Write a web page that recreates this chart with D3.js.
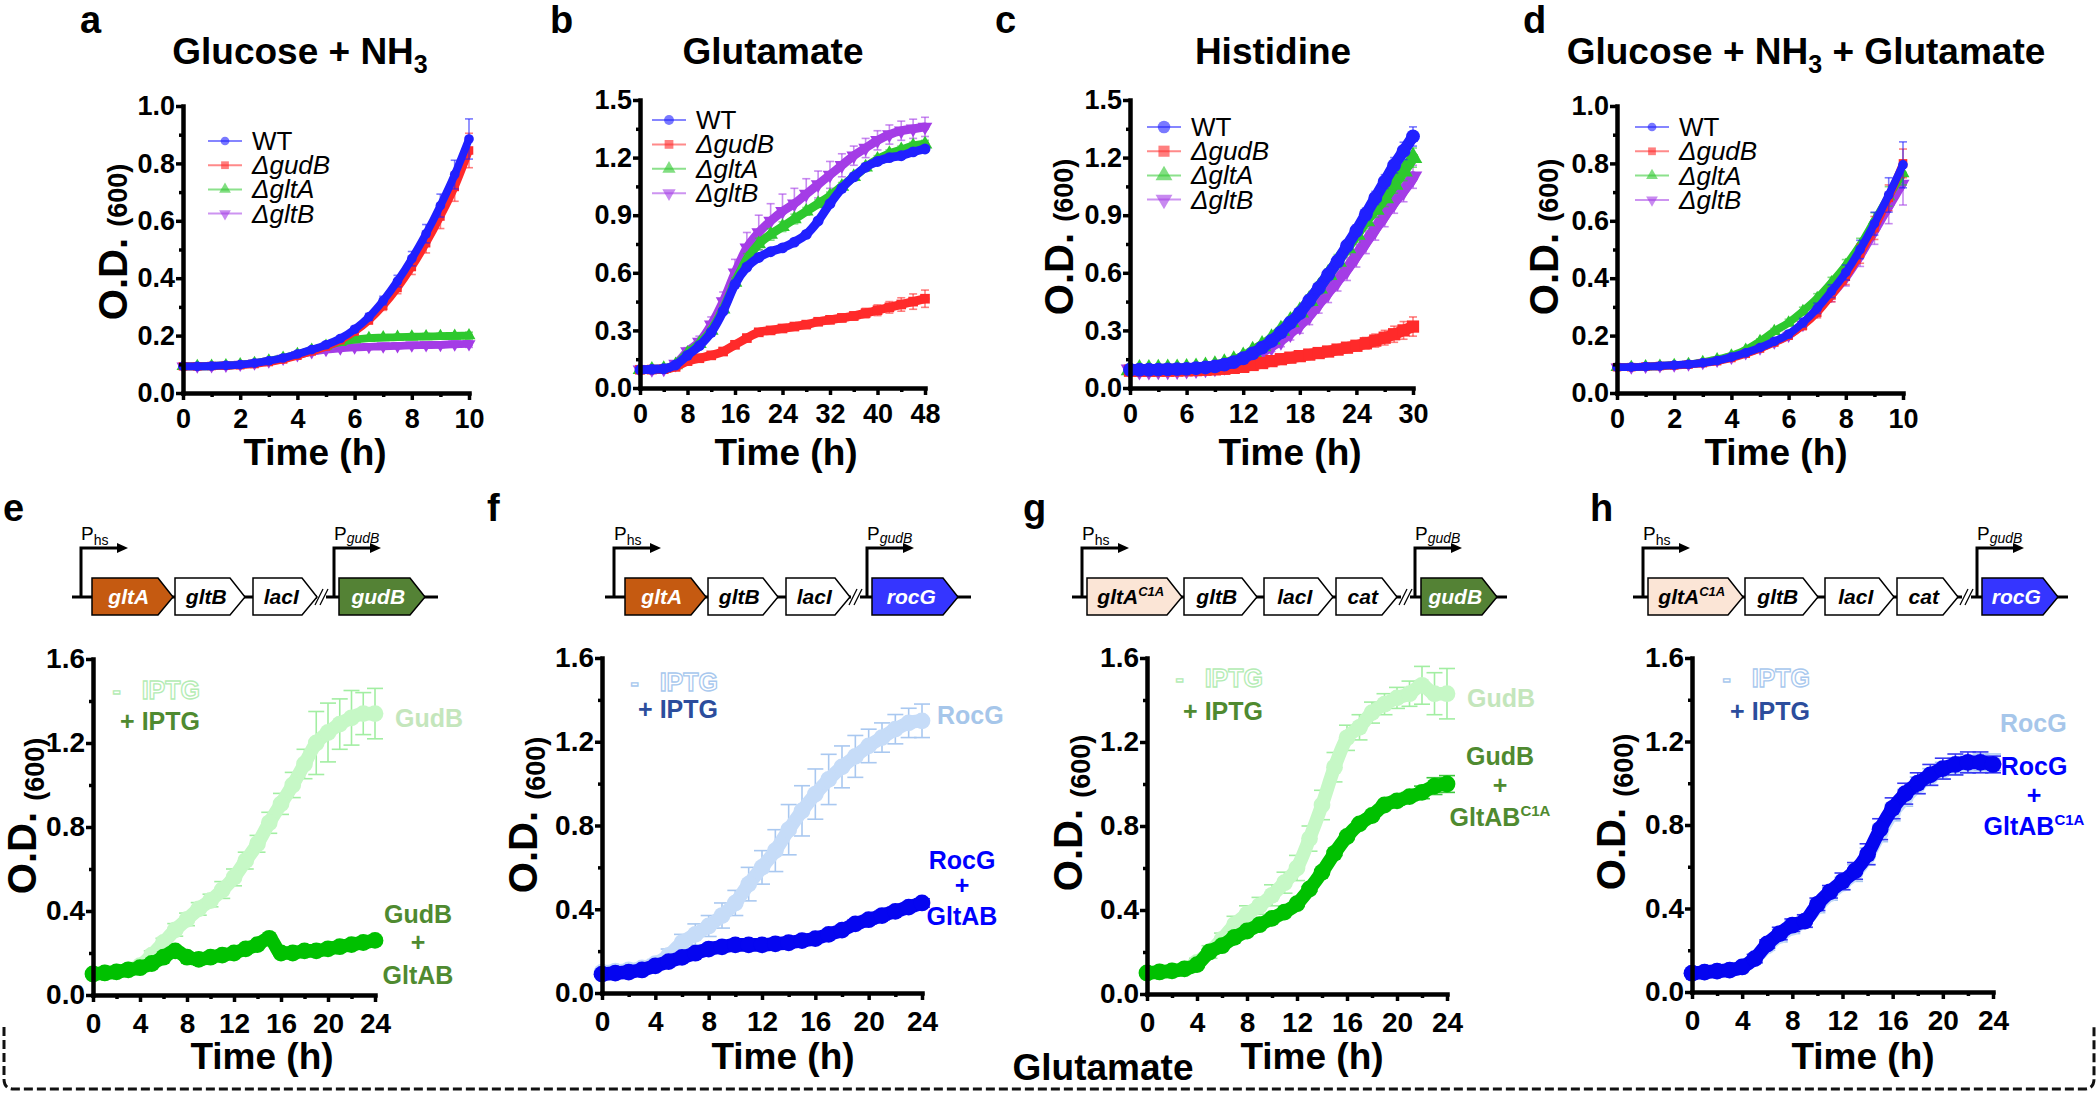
<!DOCTYPE html>
<html><head><meta charset="utf-8">
<script src="https://cdn.jsdelivr.net/npm/d3@7"></script>
<style>
html,body{margin:0;padding:0;background:#fff;overflow:hidden}
text{font-family:"Liberation Sans",Arial,Helvetica,sans-serif}
</style>
</head><body>
<script>
// ---------------- DATA ----------------
const seriesNames = ["WT", "ΔgudB", "ΔgltA", "ΔgltB"];
const panelTitles = [
  [["Glucose + NH",0],["3",1]],
  [["Glutamate",0]],
  [["Histidine",0]],
  [["Glucose + NH",0],["3",1],[" + Glutamate",0]]
];
const panelLetters = ["a","b","c","d","e","f","g","h"];

const tA = [0,0.5,1,1.5,2,2.5,3,3.5,4,4.5,5,5.5,6,6.5,7,7.5,8,8.5,9,9.5,10];
const a_WT   = [0.093,0.093,0.094,0.096,0.099,0.104,0.112,0.122,0.136,0.151,0.168,0.19,0.222,0.265,0.322,0.39,0.468,0.555,0.653,0.761,0.885];
const a_WT_sd= [0.005,0.005,0.005,0.005,0.005,0.005,0.005,0.005,0.006,0.006,0.007,0.008,0.01,0.012,0.015,0.02,0.025,0.032,0.04,0.05,0.07];
const a_gudB = [0.093,0.093,0.094,0.095,0.097,0.101,0.108,0.117,0.13,0.145,0.162,0.184,0.214,0.253,0.304,0.366,0.439,0.522,0.615,0.718,0.845];
const a_gudB_sd=[0.005,0.005,0.005,0.005,0.005,0.005,0.005,0.005,0.006,0.006,0.007,0.008,0.01,0.012,0.016,0.02,0.026,0.034,0.042,0.05,0.06];
const a_gltA = [0.093,0.093,0.094,0.096,0.099,0.104,0.112,0.122,0.135,0.15,0.164,0.177,0.186,0.191,0.193,0.195,0.196,0.197,0.198,0.199,0.2];
const a_gltA_sd=[0.005,0.005,0.005,0.005,0.005,0.005,0.005,0.005,0.005,0.006,0.006,0.007,0.007,0.008,0.008,0.009,0.009,0.01,0.01,0.011,0.012];
const a_gltB = [0.093,0.093,0.094,0.096,0.099,0.104,0.111,0.12,0.132,0.143,0.151,0.156,0.159,0.161,0.163,0.164,0.166,0.167,0.168,0.17,0.171];
const a_gltB_sd=[0.005,0.005,0.005,0.005,0.005,0.005,0.005,0.005,0.005,0.006,0.006,0.007,0.007,0.008,0.008,0.009,0.009,0.01,0.01,0.011,0.012];

const tB = [0,2,4,6,8,10,12,14,16,18,20,22,24,26,28,30,32,34,36,38,40,42,44,46,48];
const b_WT   = [0.095,0.097,0.1,0.12,0.17,0.22,0.29,0.4,0.54,0.63,0.68,0.71,0.73,0.76,0.8,0.87,0.96,1.04,1.1,1.15,1.18,1.2,1.21,1.23,1.245];
const b_WT_sd= [0.005,0.005,0.005,0.008,0.01,0.01,0.012,0.015,0.015,0.015,0.015,0.015,0.015,0.015,0.015,0.015,0.015,0.015,0.015,0.015,0.015,0.015,0.015,0.015,0.015];
const b_gudB = [0.095,0.096,0.098,0.11,0.14,0.155,0.17,0.19,0.225,0.26,0.29,0.3,0.31,0.32,0.33,0.345,0.355,0.365,0.375,0.39,0.405,0.42,0.435,0.45,0.465];
const b_gudB_sd=[0.005,0.005,0.005,0.005,0.008,0.008,0.01,0.01,0.012,0.012,0.015,0.015,0.015,0.015,0.015,0.018,0.018,0.02,0.022,0.025,0.028,0.03,0.035,0.04,0.045];
const b_gltA = [0.095,0.097,0.1,0.12,0.18,0.23,0.3,0.41,0.55,0.67,0.75,0.8,0.84,0.88,0.92,0.96,1.0,1.05,1.1,1.15,1.19,1.22,1.24,1.26,1.27];
const b_gltA_sd=[0.005,0.005,0.006,0.008,0.01,0.012,0.015,0.02,0.025,0.03,0.03,0.03,0.025,0.025,0.02,0.02,0.02,0.02,0.02,0.02,0.02,0.02,0.02,0.02,0.02];
const b_gltB = [0.095,0.097,0.1,0.125,0.19,0.24,0.33,0.45,0.6,0.73,0.81,0.87,0.92,0.96,1.01,1.06,1.11,1.16,1.21,1.25,1.29,1.32,1.34,1.35,1.36];
const b_gltB_sd=[0.005,0.006,0.008,0.01,0.02,0.03,0.04,0.05,0.07,0.08,0.09,0.09,0.09,0.08,0.08,0.07,0.07,0.06,0.05,0.05,0.05,0.05,0.05,0.05,0.05];

const tC = [0,1,2,3,4,5,6,7,8,9,10,11,12,13,14,15,16,17,18,19,20,21,22,23,24,25,26,27,28,29,30];
const c_WT   = [0.095,0.095,0.095,0.096,0.097,0.098,0.1,0.103,0.107,0.113,0.122,0.135,0.155,0.18,0.21,0.245,0.29,0.34,0.39,0.455,0.52,0.59,0.66,0.74,0.82,0.905,0.99,1.075,1.16,1.235,1.31];
const c_WT_sd= [0.012,0.012,0.012,0.012,0.012,0.012,0.012,0.012,0.012,0.012,0.012,0.012,0.012,0.012,0.013,0.014,0.015,0.016,0.018,0.02,0.022,0.024,0.026,0.028,0.03,0.032,0.034,0.036,0.04,0.045,0.05];
const c_gudB = [0.09,0.09,0.09,0.09,0.09,0.091,0.092,0.093,0.095,0.097,0.1,0.105,0.11,0.12,0.13,0.14,0.15,0.158,0.166,0.174,0.182,0.19,0.2,0.21,0.22,0.233,0.247,0.262,0.28,0.3,0.32];
const c_gudB_sd=[0.015,0.015,0.015,0.015,0.015,0.015,0.015,0.015,0.015,0.015,0.015,0.015,0.015,0.015,0.015,0.015,0.015,0.015,0.015,0.016,0.018,0.02,0.022,0.024,0.026,0.03,0.034,0.038,0.042,0.046,0.05];
const c_gltA = [0.095,0.095,0.095,0.096,0.097,0.098,0.1,0.103,0.108,0.115,0.125,0.14,0.16,0.19,0.22,0.255,0.3,0.345,0.395,0.455,0.52,0.59,0.66,0.73,0.8,0.87,0.93,0.99,1.06,1.13,1.2];
const c_gltA_sd=[0.012,0.012,0.012,0.012,0.012,0.012,0.012,0.012,0.012,0.012,0.012,0.012,0.012,0.012,0.015,0.02,0.02,0.025,0.025,0.03,0.03,0.03,0.035,0.035,0.04,0.04,0.04,0.045,0.045,0.05,0.05];
const c_gltB = [0.095,0.095,0.095,0.096,0.097,0.098,0.1,0.103,0.107,0.112,0.12,0.13,0.145,0.165,0.19,0.22,0.25,0.29,0.33,0.38,0.44,0.5,0.56,0.62,0.69,0.76,0.83,0.9,0.97,1.03,1.1];
const c_gltB_sd=[0.012,0.012,0.012,0.012,0.012,0.012,0.012,0.012,0.012,0.012,0.012,0.012,0.015,0.02,0.025,0.03,0.035,0.04,0.045,0.05,0.05,0.055,0.055,0.06,0.06,0.06,0.06,0.06,0.06,0.06,0.06];

const tD = [0,0.5,1,1.5,2,2.5,3,3.5,4,4.5,5,5.5,6,6.5,7,7.5,8,8.5,9,9.5,10];
const d_WT   = [0.09,0.09,0.092,0.094,0.097,0.1,0.105,0.113,0.125,0.14,0.158,0.18,0.205,0.245,0.295,0.355,0.42,0.5,0.59,0.69,0.795];
const d_WT_sd= [0.006,0.006,0.006,0.006,0.006,0.006,0.006,0.007,0.007,0.008,0.009,0.01,0.012,0.015,0.018,0.022,0.026,0.032,0.04,0.06,0.08];
const d_gudB = [0.09,0.09,0.092,0.094,0.096,0.099,0.104,0.111,0.122,0.137,0.155,0.176,0.2,0.235,0.28,0.34,0.405,0.485,0.575,0.68,0.8];
const d_gudB_sd=[0.006,0.006,0.006,0.006,0.006,0.006,0.006,0.007,0.007,0.008,0.009,0.01,0.012,0.015,0.018,0.022,0.027,0.033,0.04,0.045,0.05];
const d_gltA = [0.09,0.09,0.092,0.094,0.097,0.1,0.107,0.117,0.13,0.15,0.18,0.215,0.245,0.285,0.33,0.385,0.445,0.515,0.6,0.685,0.765];
const d_gltA_sd=[0.006,0.006,0.006,0.006,0.006,0.006,0.006,0.007,0.007,0.008,0.009,0.01,0.012,0.014,0.016,0.018,0.02,0.024,0.028,0.034,0.04];
const d_gltB = [0.09,0.09,0.092,0.094,0.097,0.1,0.105,0.113,0.124,0.139,0.156,0.177,0.2,0.238,0.285,0.34,0.4,0.475,0.56,0.645,0.73];
const d_gltB_sd=[0.006,0.006,0.006,0.006,0.006,0.006,0.006,0.007,0.007,0.008,0.009,0.01,0.012,0.015,0.018,0.022,0.027,0.034,0.042,0.055,0.075];

const tE = [0,1,2,3,4,5,6,7,8,9,10,11,12,13,14,15,16,17,18,19,20,21,22,23,24];
const e_minus   = [0.1,0.105,0.11,0.12,0.14,0.19,0.25,0.31,0.36,0.41,0.45,0.5,0.56,0.64,0.72,0.82,0.91,1.0,1.1,1.2,1.25,1.29,1.32,1.34,1.34];
const e_minus_sd= [0.01,0.01,0.01,0.01,0.01,0.02,0.02,0.03,0.03,0.03,0.03,0.04,0.04,0.04,0.04,0.05,0.05,0.06,0.07,0.15,0.14,0.12,0.13,0.1,0.12];
const e_plus    = [0.1,0.105,0.11,0.12,0.13,0.15,0.18,0.21,0.18,0.17,0.18,0.19,0.2,0.22,0.24,0.27,0.2,0.2,0.21,0.21,0.22,0.23,0.24,0.25,0.26];
const e_plus_sd = [0.01,0.01,0.01,0.01,0.01,0.01,0.01,0.01,0.01,0.01,0.01,0.01,0.01,0.01,0.01,0.01,0.01,0.01,0.01,0.01,0.01,0.01,0.01,0.01,0.01];
const f_minus   = [0.1,0.105,0.11,0.12,0.14,0.18,0.24,0.28,0.32,0.37,0.43,0.52,0.6,0.68,0.78,0.87,0.95,1.02,1.08,1.13,1.18,1.22,1.26,1.29,1.3];
const f_minus_sd= [0.01,0.01,0.01,0.01,0.02,0.03,0.04,0.05,0.05,0.06,0.06,0.08,0.08,0.1,0.12,0.12,0.12,0.12,0.1,0.1,0.08,0.07,0.07,0.07,0.08];
const f_plus    = [0.09,0.095,0.1,0.11,0.13,0.15,0.17,0.19,0.21,0.22,0.23,0.23,0.23,0.235,0.24,0.25,0.26,0.28,0.3,0.33,0.35,0.37,0.39,0.41,0.43];
const f_plus_sd = [0.01,0.01,0.01,0.01,0.01,0.01,0.01,0.01,0.01,0.01,0.01,0.01,0.01,0.01,0.01,0.01,0.01,0.01,0.01,0.02,0.02,0.02,0.02,0.02,0.02];
const g_minus   = [0.1,0.105,0.11,0.12,0.15,0.2,0.26,0.33,0.38,0.42,0.47,0.53,0.6,0.74,0.9,1.08,1.22,1.27,1.34,1.38,1.41,1.43,1.47,1.43,1.43];
const g_minus_sd= [0.01,0.01,0.01,0.01,0.02,0.03,0.03,0.04,0.04,0.04,0.05,0.05,0.06,0.06,0.07,0.07,0.06,0.06,0.05,0.05,0.05,0.06,0.09,0.1,0.12];
const g_plus    = [0.1,0.105,0.11,0.12,0.14,0.2,0.23,0.27,0.3,0.33,0.36,0.39,0.43,0.5,0.58,0.67,0.75,0.81,0.85,0.9,0.92,0.94,0.96,0.99,1.0];
const g_plus_sd = [0.01,0.01,0.01,0.01,0.01,0.01,0.01,0.01,0.01,0.01,0.01,0.01,0.01,0.01,0.01,0.01,0.01,0.01,0.01,0.01,0.02,0.02,0.03,0.04,0.04];
const h_minus   = [0.09,0.095,0.1,0.105,0.12,0.16,0.22,0.27,0.31,0.34,0.41,0.47,0.52,0.57,0.65,0.76,0.86,0.93,0.99,1.03,1.06,1.08,1.09,1.1,1.1];
const h_minus_sd= [0.01,0.01,0.01,0.01,0.01,0.02,0.02,0.03,0.03,0.03,0.03,0.03,0.03,0.04,0.04,0.04,0.04,0.04,0.04,0.04,0.04,0.04,0.04,0.04,0.04];
const h_plus    = [0.09,0.095,0.1,0.105,0.12,0.16,0.23,0.28,0.32,0.34,0.42,0.48,0.53,0.58,0.66,0.78,0.88,0.95,1.0,1.04,1.07,1.09,1.1,1.1,1.09];
const h_plus_sd = [0.01,0.01,0.01,0.01,0.01,0.02,0.02,0.03,0.03,0.03,0.03,0.03,0.04,0.04,0.05,0.05,0.05,0.05,0.05,0.05,0.05,0.05,0.05,0.05,0.04];

// tick labels
const xTicksA = [0,2,4,6,8,10], xTicksB = [0,8,16,24,32,40,48], xTicksC = [0,6,12,18,24,30], xTicksE = [0,4,8,12,16,20,24];
const yTicksA = [0,0.2,0.4,0.6,0.8,1.0], yTicksB = [0,0.3,0.6,0.9,1.2,1.5], yTicksE = [0,0.4,0.8,1.2,1.6];

// ---------------- DRAW ----------------
const W = 2100, H = 1093;
const FONT = '"Liberation Sans",Arial,Helvetica,sans-serif';
const svg = d3.select('body').append('svg').attr('width', W).attr('height', H);

const topColors = ['#2020ff', '#ff2a2a', '#2ec82e', '#a43ce6'];
const topSyms = [d3.symbolCircle, d3.symbolSquare, d3.symbolTriangle, d3.symbolTriangle];
const topRot = [false, false, false, true];

function minorOf(major){
  const out = [];
  for (let i = 0; i < major.length - 1; i++) out.push((major[i] + major[i+1]) / 2);
  return out;
}

function axes(g, x, y, xt, yt, o){
  const yA = g.append('g').attr('transform', `translate(${o.x0},0)`)
    .call(d3.axisLeft(y).tickValues(yt).tickSize(7).tickSizeOuter(0).tickPadding(o.yPad).tickFormat(d3.format('.1f')));
  const yM = g.append('g').attr('transform', `translate(${o.x0},0)`)
    .call(d3.axisLeft(y).tickValues(minorOf(yt)).tickSize(4).tickSizeOuter(0).tickFormat(''));
  const xA = g.append('g').attr('transform', `translate(0,${o.y1})`)
    .call(d3.axisBottom(x).tickValues(xt).tickSize(7).tickSizeOuter(0).tickPadding(o.xPad).tickFormat(d3.format('d')));
  const xM = g.append('g').attr('transform', `translate(0,${o.y1})`)
    .call(d3.axisBottom(x).tickValues(minorOf(xt)).tickSize(4).tickSizeOuter(0).tickFormat(''));
  [yM, xM].forEach(a => a.select('.domain').remove());
  [yA, xA, yM, xM].forEach(a => {
    a.attr('font-family', FONT).attr('font-size', o.tickFont).attr('font-weight', 'bold');
    a.selectAll('.tick line').attr('stroke', '#000').attr('stroke-width', 3.5);
    a.select('.domain').attr('stroke', '#000').attr('stroke-width', 4.5).attr('stroke-linecap', 'square');
    a.selectAll('text').attr('fill', '#000');
  });
}

function seriesDraw(g, x, y, s){
  const pts = s.t.map((t, i) => ({t, v: s.v[i], e: s.sd[i]}));
  const eg = g.append('g').attr('stroke', s.err).attr('stroke-width', 1.6).attr('stroke-opacity', s.errOp || 1);
  pts.forEach(p => {
    const xx = x(p.t), yt = y(p.v + p.e), yb = y(p.v - p.e);
    eg.append('line').attr('x1', xx).attr('x2', xx).attr('y1', yt).attr('y2', yb);
    eg.append('line').attr('x1', xx - s.cap).attr('x2', xx + s.cap).attr('y1', yt).attr('y2', yt);
    eg.append('line').attr('x1', xx - s.cap).attr('x2', xx + s.cap).attr('y1', yb).attr('y2', yb);
  });
  g.append('path').datum(pts)
    .attr('d', d3.line().x(p => x(p.t)).y(p => y(p.v)).curve(d3.curveMonotoneX))
    .attr('fill', 'none').attr('stroke', s.fill).attr('stroke-width', s.r * 1.7)
    .attr('stroke-linejoin', 'round').attr('stroke-linecap', 'round');
  g.selectAll(null).data(pts).enter().append('path')
    .attr('transform', p => `translate(${x(p.t)},${y(p.v)})${s.rot ? ' rotate(180)' : ''}`)
    .attr('d', d3.symbol().type(s.sym).size(Math.PI * s.r * s.r * 1.1))
    .attr('fill', s.fill);
}

function yLabel(x, yc, dy2){
  const t = svg.append('text').attr('transform', `translate(${x},${yc}) rotate(-90)`)
    .attr('text-anchor', 'middle').attr('font-weight', 'bold').attr('font-family', FONT);
  t.append('tspan').attr('font-size', 40).text('O.D. ');
  t.append('tspan').attr('font-size', 27).attr('dy', dy2).text('(600)');
}

function letter(lbl, x, y){
  svg.append('text').attr('x', x).attr('y', y).attr('font-size', 38).attr('font-weight', 'bold')
    .attr('font-family', FONT).text(lbl);
}

// ---------- top row ----------
const topPanels = [
  {t: tA, vals: [a_WT, a_gudB, a_gltA, a_gltB], sds: [a_WT_sd, a_gudB_sd, a_gltA_sd, a_gltB_sd], xmax: 10, ymax: 1.0, xt: xTicksA, yt: yTicksA,
   x0: 183, x1: 469, y0: 106, y1: 393, r: 4.6, title: panelTitles[0], titleX: 300, lx: 80, ylab: [127, 242], xlabX: 315, leg: [208, 141, 24.2]},
  {t: tB, vals: [b_WT, b_gudB, b_gltA, b_gltB], sds: [b_WT_sd, b_gudB_sd, b_gltA_sd, b_gltB_sd], xmax: 48, ymax: 1.5, xt: xTicksB, yt: yTicksB,
   x0: 640, x1: 925, y0: 100, y1: 388, r: 5.2, title: panelTitles[1], titleX: 773, lx: 550, ylab: null, xlabX: 786, leg: [652, 120, 24.4]},
  {t: tC, vals: [c_WT, c_gudB, c_gltA, c_gltB], sds: [c_WT_sd, c_gudB_sd, c_gltA_sd, c_gltB_sd], xmax: 30, ymax: 1.5, xt: xTicksC, yt: yTicksB,
   x0: 1130, x1: 1413, y0: 100, y1: 388, r: 6.6, title: panelTitles[2], titleX: 1273, lx: 995, ylab: [1073, 237], xlabX: 1290, leg: [1147, 127, 24.2]},
  {t: tD, vals: [d_WT, d_gudB, d_gltA, d_gltB], sds: [d_WT_sd, d_gudB_sd, d_gltA_sd, d_gltB_sd], xmax: 10, ymax: 1.0, xt: xTicksA, yt: yTicksA,
   x0: 1617, x1: 1903, y0: 106, y1: 393, r: 4.6, title: panelTitles[3], titleX: 1806, lx: 1523, ylab: [1558, 237], xlabX: 1776, leg: [1635, 127, 24.3]}
];

topPanels.forEach((p, pi) => {
  const g = svg.append('g');
  const x = d3.scaleLinear().domain([0, p.xmax]).range([p.x0, p.x1]);
  const y = d3.scaleLinear().domain([0, p.ymax]).range([p.y1, p.y0]);
  [3, 2, 1, 0].forEach(k => {
    seriesDraw(g, x, y, {t: p.t, v: p.vals[k], sd: p.sds[k], fill: topColors[k], err: topColors[k], errOp: 0.6,
      sym: topSyms[k], rot: topRot[k], r: p.r, cap: 4});
  });
  axes(g, x, y, p.xt, p.yt, {x0: p.x0, y1: p.y1, yPad: 1, xPad: 9, tickFont: 27});
  const [lx, ly, ldy] = p.leg;
  seriesNames.forEach((nm, k) => {
    const yy = ly + k * ldy;
    g.append('line').attr('x1', lx).attr('x2', lx + 34).attr('y1', yy).attr('y2', yy)
      .attr('stroke', topColors[k]).attr('stroke-opacity', 0.55).attr('stroke-width', 2);
    g.append('path').attr('transform', `translate(${lx + 17},${yy})${topRot[k] ? ' rotate(180)' : ''}`)
      .attr('d', d3.symbol().type(topSyms[k]).size(Math.PI * Math.pow(p.r * 0.95, 2)))
      .attr('fill', topColors[k]).attr('fill-opacity', 0.6);
    g.append('text').attr('x', lx + 44).attr('y', yy + 9).attr('font-size', 26).attr('font-family', FONT)
      .attr('font-style', k === 0 ? 'normal' : 'italic').text(nm);
  });
  const tt = svg.append('text').attr('x', p.titleX).attr('y', 64).attr('text-anchor', 'middle')
    .attr('font-size', 37).attr('font-weight', 'bold').attr('font-family', FONT);
  let shifted = false;
  p.title.forEach(([s, sub]) => {
    const ts = tt.append('tspan').text(s);
    if (sub) { ts.attr('font-size', 25).attr('dy', 9); shifted = true; }
    else if (shifted) { ts.attr('dy', -9); shifted = false; }
  });
  letter(panelLetters[pi], p.lx, 33);
  if (p.ylab) yLabel(p.ylab[0], p.ylab[1], 0);
  svg.append('text').attr('x', p.xlabX).attr('y', 465).attr('text-anchor', 'middle').attr('font-size', 37)
    .attr('font-weight', 'bold').attr('font-family', FONT).text('Time (h)');
});

// ---------- bottom row ----------
const greenSet = {minusFill: '#c6f8c6', minusErr: '#a2eea2', plusFill: '#00c000', plusErr: '#3cc83c',
  outline: '#b4ecb4', plusLbl: '#4f8a30', lightLbl: '#c4e6bc', darkLbl: '#4f8a30'};
const blueSet = {minusFill: '#c6dcf8', minusErr: '#a9c8f0', plusFill: '#0505f0', plusErr: '#3838f2',
  outline: '#a8c8ee', plusLbl: '#2c4d9c', lightLbl: '#a6c6ea', darkLbl: '#0000ff'};

const bottomPanels = [
  {minus: [e_minus, e_minus_sd], plus: [e_plus, e_plus_sd], set: greenSet, x0: 93, x1: 375, y0: 659, y1: 995, lx: 3, ylab: [36, 816], xlabX: 262,
   ipX: 200, ipY: [699, 730], light: ['GudB', 395, 727], dark: [['GudB', '+', 'GltAB'], 418, [923, 951, 984]], sup: false},
  {minus: [f_minus, f_minus_sd], plus: [f_plus, f_plus_sd], set: blueSet, x0: 602, x1: 922, y0: 658, y1: 993, lx: 487, ylab: [537, 815], xlabX: 783,
   ipX: 718, ipY: [691, 718], light: ['RocG', 937, 724], dark: [['RocG', '+', 'GltAB'], 962, [869, 894, 925]], sup: false},
  {minus: [g_minus, g_minus_sd], plus: [g_plus, g_plus_sd], set: greenSet, x0: 1147, x1: 1447, y0: 658, y1: 994, lx: 1023, ylab: [1082, 813], xlabX: 1312,
   ipX: 1263, ipY: [687, 720], light: ['GudB', 1467, 707], dark: [['GudB', '+', 'GltAB'], 1500, [765, 794, 826]], sup: true},
  {minus: [h_minus, h_minus_sd], plus: [h_plus, h_plus_sd], set: blueSet, x0: 1692, x1: 1993, y0: 658, y1: 992, lx: 1590, ylab: [1625, 812], xlabX: 1863,
   ipX: 1810, ipY: [687, 720], light: ['RocG', 2000, 732], dark: [['RocG', '+', 'GltAB'], 2034, [775, 804, 835]], sup: true}
];

bottomPanels.forEach((p, pi) => {
  const g = svg.append('g');
  const x = d3.scaleLinear().domain([0, 24]).range([p.x0, p.x1]);
  const y = d3.scaleLinear().domain([0, 1.6]).range([p.y1, p.y0]);
  const S = p.set;
  seriesDraw(g, x, y, {t: tE, v: p.minus[0], sd: p.minus[1], fill: S.minusFill, err: S.minusErr, sym: d3.symbolCircle, r: 8, cap: 8});
  seriesDraw(g, x, y, {t: tE, v: p.plus[0], sd: p.plus[1], fill: S.plusFill, err: S.plusErr, sym: d3.symbolCircle, r: 8, cap: 8});
  axes(g, x, y, xTicksE, yTicksE, {x0: p.x0, y1: p.y1, yPad: 1, xPad: 11, tickFont: 28});
  svg.append('text').attr('x', p.ipX).attr('y', p.ipY[0]).attr('text-anchor', 'end').attr('font-size', 25)
    .attr('font-weight', 'bold').attr('font-family', FONT).attr('fill', '#fff').attr('stroke', S.outline)
    .attr('stroke-width', 1.3).attr('xml:space', 'preserve').text('-   IPTG');
  svg.append('text').attr('x', p.ipX).attr('y', p.ipY[1]).attr('text-anchor', 'end').attr('font-size', 25)
    .attr('font-weight', 'bold').attr('font-family', FONT).attr('fill', S.plusLbl).text('+ IPTG');
  svg.append('text').attr('x', p.light[1]).attr('y', p.light[2]).attr('font-size', 25).attr('font-weight', 'bold')
    .attr('font-family', FONT).attr('fill', S.lightLbl).text(p.light[0]);
  p.dark[0].forEach((s, i) => {
    const t = svg.append('text').attr('x', p.dark[1]).attr('y', p.dark[2][i]).attr('text-anchor', 'middle')
      .attr('font-size', 25).attr('font-weight', 'bold').attr('font-family', FONT).attr('fill', S.darkLbl);
    t.append('tspan').text(s);
    if (i === 2 && p.sup) t.append('tspan').attr('font-size', 15).attr('dy', -10).text('C1A');
  });
  letter(panelLetters[pi + 4], p.lx, 521);
  yLabel(p.ylab[0], p.ylab[1], 8);
  svg.append('text').attr('x', p.xlabX).attr('y', 1069).attr('text-anchor', 'middle').attr('font-size', 37)
    .attr('font-weight', 'bold').attr('font-family', FONT).text('Time (h)');
});

// ---------- gene constructs ----------
const constructs = [
  {line: [72, 438], proms: [[81, 'hs', false], [334, 'gudB', true]], brk: 322,
   genes: [[92, 173, 'gltA', '', '#c55a11', '#fff'], [175, 245, 'gltB', '', '#fff', '#000'], [253, 317, 'lacI', '', '#fff', '#000'], [339, 425, 'gudB', '', '#548235', '#fff']]},
  {line: [605, 971], proms: [[614, 'hs', false], [867, 'gudB', true]], brk: 856,
   genes: [[625, 706, 'gltA', '', '#c55a11', '#fff'], [708, 778, 'gltB', '', '#fff', '#000'], [786, 850, 'lacI', '', '#fff', '#000'], [872, 958, 'rocG', '', '#3535ff', '#fff']]},
  {line: [1072, 1507], proms: [[1082, 'hs', false], [1415, 'gudB', true]], brk: 1406,
   genes: [[1087, 1182, 'gltA', 'C1A', '#fbe5d6', '#000'], [1184, 1257, 'gltB', '', '#fff', '#000'], [1264, 1333, 'lacI', '', '#fff', '#000'], [1336, 1397, 'cat', '', '#fff', '#000'], [1421, 1497, 'gudB', '', '#548235', '#fff']]},
  {line: [1633, 2068], proms: [[1643, 'hs', false], [1977, 'gudB', true]], brk: 1967,
   genes: [[1648, 1743, 'gltA', 'C1A', '#fbe5d6', '#000'], [1745, 1818, 'gltB', '', '#fff', '#000'], [1825, 1894, 'lacI', '', '#fff', '#000'], [1897, 1958, 'cat', '', '#fff', '#000'], [1982, 2058, 'rocG', '', '#3535ff', '#fff']]}
];
const BY0 = 578, BY1 = 615, BYC = 597;
constructs.forEach(c => {
  const g = svg.append('g');
  g.append('line').attr('x1', c.line[0]).attr('x2', c.line[1]).attr('y1', BYC).attr('y2', BYC)
    .attr('stroke', '#000').attr('stroke-width', 3);
  g.append('rect').attr('x', c.brk - 5).attr('y', BYC - 3).attr('width', 9).attr('height', 6).attr('fill', '#fff');
  [-3, 2].forEach(d => g.append('line').attr('x1', c.brk + d - 4).attr('y1', BYC + 8).attr('x2', c.brk + d + 4).attr('y2', BYC - 8)
    .attr('stroke', '#000').attr('stroke-width', 1.3));
  c.proms.forEach(([px, sub, it]) => {
    g.append('path').attr('d', `M${px},${BYC} V548 H${px + 38}`).attr('fill', 'none').attr('stroke', '#000').attr('stroke-width', 3);
    g.append('path').attr('d', `M${px + 47},548 L${px + 36},543 L${px + 36},553 Z`).attr('fill', '#000');
    const t = g.append('text').attr('x', px).attr('y', 540).attr('font-size', 19).attr('font-family', FONT);
    t.append('tspan').text('P');
    t.append('tspan').attr('font-size', 14).attr('dy', it ? 3 : 5).attr('font-style', it ? 'italic' : 'normal').text(sub);
  });
  c.genes.forEach(([a, b, nm, sup, fill, col]) => {
    const tip = 15;
    g.append('path').attr('d', `M${a},${BY0} H${b - tip} L${b},${BYC} L${b - tip},${BY1} H${a} Z`)
      .attr('fill', fill).attr('stroke', '#000').attr('stroke-width', 1.5);
    const t = g.append('text').attr('x', (a + b - tip / 2) / 2).attr('y', BYC + 7).attr('text-anchor', 'middle')
      .attr('font-size', 21).attr('font-weight', 'bold').attr('font-style', 'italic').attr('font-family', FONT).attr('fill', col);
    t.append('tspan').text(nm);
    if (sup) t.append('tspan').attr('font-size', 13).attr('dy', -8).text(sup);
  });
});

// ---------- bracket ----------
svg.append('path').attr('d', 'M4,1027 V1079 Q4,1089 14,1089 H2084 Q2094,1089 2094,1079 V1027')
  .attr('fill', 'none').attr('stroke', '#111').attr('stroke-width', 3).attr('stroke-dasharray', '9,4');
svg.append('text').attr('x', 1103).attr('y', 1080).attr('text-anchor', 'middle').attr('font-size', 37)
  .attr('font-weight', 'bold').attr('font-family', FONT).text('Glutamate');
</script>
</body></html>
